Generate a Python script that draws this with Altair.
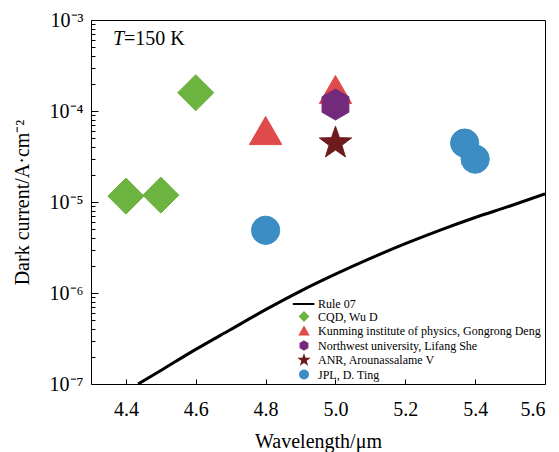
import math
import altair as alt
import pandas as pd

# ---- data ----
series_names = [
    "Rule 07",
    "CQD, Wu D",
    "Kunming institute of physics, Gongrong Deng",
    "Northwest university, Lifang She",
    "ANR, Arounassalame V",
    "JPL, D. Ting",
]
rule_wl = [4.435, 4.5, 4.6, 4.7, 4.8, 4.9, 5.0, 5.1, 5.2, 5.3, 5.4, 5.5, 5.6]
rule_jd = [1.0e-7, 1.41e-7, 2.40e-7, 3.97e-7, 6.56e-7, 1.05e-6, 1.61e-6, 2.40e-6,
           3.48e-6, 4.91e-6, 6.75e-6, 9.04e-6, 1.23e-5]

pt_series = ["CQD, Wu D"] * 3 + ["Kunming institute of physics, Gongrong Deng"] * 2 + \
            ["Northwest university, Lifang She", "ANR, Arounassalame V"] + ["JPL, D. Ting"] * 3
pt_wl = [4.4, 4.5, 4.6, 4.8, 5.0, 5.0, 5.0, 4.8, 5.37, 5.4]
pt_jd = [1.16e-5, 1.19e-5, 1.59e-4, 6.1e-5, 1.72e-4, 1.18e-4, 4.43e-5, 4.89e-6, 4.44e-5, 2.96e-5]

x_ticks = [4.4, 4.6, 4.8, 5.0, 5.2, 5.4, 5.6]
y_major = [1e-7, 1e-6, 1e-5, 1e-4, 1e-3]
y_labels = ["10⁻⁷", "10⁻⁶", "10⁻⁵", "10⁻⁴", "10⁻³"]

# ---- styles ----
W, H = 454, 364
FONT = "Liberation Serif"
colors = ["#000000", "#6cb33f", "#e04a4a", "#742a7a", "#6e1b1d", "#3c8dc3"]
hexagon = "M0,-1L0.866,-0.5L0.866,0.5L0,1L-0.866,0.5L-0.866,-0.5Z"
star = ("M0,-1L0.2351,-0.3236L0.9511,-0.309L0.3804,0.1236L0.5878,0.809L0,0.4"
        "L-0.5878,0.809L-0.3804,0.1236L-0.9511,-0.309L-0.2351,-0.3236Z")
line_sym = "M-2.8,0L2.6,0"
shapes = [line_sym, "diamond", "triangle-up", hexagon, star, "circle"]
mark_sizes = {
    "CQD, Wu D": 1300,
    "Kunming institute of physics, Gongrong Deng": 1050,
    "Northwest university, Lifang She": 960,
    "ANR, Arounassalame V": 1150,
    "JPL, D. Ting": 800,
}

y_minor = [m * 10 ** e for e in range(-7, -3) for m in range(1, 10)] + [1e-3]

rule_df = pd.DataFrame({"wl": rule_wl, "jd": rule_jd})
pt_df = pd.DataFrame({"series": pt_series, "wl": pt_wl, "jd": pt_jd})

xscale = alt.Scale(domain=[4.3, 5.6], nice=False, zero=False)
yscale = alt.Scale(type="log", domain=[1e-7, 1e-3], nice=False)

label_expr = " : ".join(
    f"round(log(datum.value)/LN10) == {round(math.log10(v))} ? '{t}'"
    for v, t in zip(y_major, y_labels)
) + " : ''"

line = alt.Chart(rule_df).mark_line(color="black", strokeWidth=3, interpolate="monotone", clip=True).encode(
    x=alt.X("wl:Q", scale=xscale, axis=alt.Axis(
        orient="bottom", values=x_ticks, format=".1f", tickSize=0, domain=False, grid=False,
        labelFont=FONT, labelFontSize=20, labelPadding=15, labelColor="black",
        title="Wavelength/μm", titleFont=FONT, titleFontSize=20, titleFontWeight="normal",
        titleColor="black", titleY=57, titleBaseline="middle")),
    y=alt.Y("jd:Q", scale=yscale, axis=alt.Axis(
        orient="left", values=y_major, labelExpr=label_expr, tickSize=0, domain=False, grid=False,
        labelFont=FONT, labelFontSize=20, labelPadding=8, labelColor="black", labelBaseline="middle",
        title="Dark current/A·cm⁻²", titleFont=FONT, titleFontSize=20, titleFontWeight="normal",
        titleColor="black", titleX=-69, titleY=H / 2, titleBaseline="middle", titleAlign="center")),
)

major_test = "abs(log(datum.value)/LN10 - round(log(datum.value)/LN10)) < 0.001"

legend = alt.Legend(
    title=None, orient="none", legendX=207, legendY=278, symbolSize=64, symbolStrokeWidth=2,
    labelFont=FONT, labelFontSize=12, labelColor="black", labelOffset=8, rowPadding=-1.5,
    padding=0, labelLimit=400,
)
fill_enc = alt.Fill("series:N", scale=alt.Scale(domain=series_names, range=colors), legend=legend)
stroke_enc = alt.Stroke("series:N", scale=alt.Scale(domain=series_names, range=colors), legend=legend)
shape_enc = alt.Shape("series:N", scale=alt.Scale(domain=series_names, range=shapes), legend=legend)

tick_x = alt.X("wl:Q", scale=xscale, axis=alt.Axis(
    orient="top", offset=-H, values=x_ticks, labels=False, domain=False, grid=False,
    tickSize=5, tickColor="black", tickWidth=1, title=None))
tick_y = alt.Y("jd:Q", scale=yscale, axis=alt.Axis(
    orient="right", offset=-W, values=y_minor, labels=False, domain=False, grid=False,
    tickSize={"condition": {"test": major_test, "value": 7}, "value": 4},
    tickColor="black", tickWidth=1, title=None))

point_layers = []
for i, name in enumerate(series_names[1:]):
    sub = pt_df[pt_df["series"] == name]
    enc = dict(fill=fill_enc, stroke=stroke_enc, shape=shape_enc)
    if i == 0:
        enc.update(x=tick_x, y=tick_y)
    else:
        enc.update(x=alt.X("wl:Q", scale=xscale, axis=None), y=alt.Y("jd:Q", scale=yscale, axis=None))
    point_layers.append(
        alt.Chart(sub).mark_point(filled=True, opacity=1, strokeWidth=1, size=mark_sizes[name]).encode(**enc)
    )

ann_T = alt.Chart(alt.Data(values=[{}])).mark_text(
    font=FONT, fontSize=20, fontStyle="italic", align="left", baseline="middle", color="black"
).encode(x=alt.value(22), y=alt.value(19), text=alt.value("T"))
ann_rest = alt.Chart(alt.Data(values=[{}])).mark_text(
    font=FONT, fontSize=20, align="left", baseline="middle", color="black"
).encode(x=alt.value(33), y=alt.value(19), text=alt.value("=150 K"))

chart = alt.layer(line, *point_layers, ann_T, ann_rest).resolve_axis(
    x="independent", y="independent"
).resolve_scale(x="shared", y="shared").properties(
    width=W, height=H,
    autosize=alt.AutoSizeParams(type="none"),
    padding={"left": 83, "top": 12, "right": 6, "bottom": 68},
).configure(font=FONT).configure_view(
    stroke="black", strokeWidth=1
)

chart.save("out.html", embed_options={"renderer": "svg", "actions": False})
